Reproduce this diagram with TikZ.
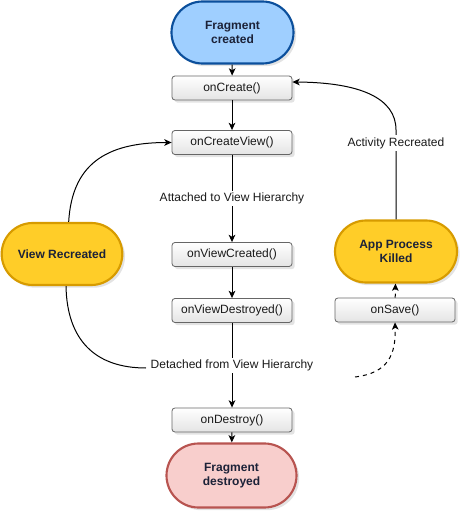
\documentclass[tikz,border=0pt]{standalone}
\usepackage{fontspec}
\setmainfont{Liberation Sans}
\usetikzlibrary{arrows.meta,shadows,shapes.misc}
\definecolor{boxline}{HTML}{666666}
\definecolor{boxbot}{HTML}{E4E4E4}
\definecolor{blueFill}{HTML}{9FCFFF}
\definecolor{blueLine}{HTML}{0B4F9C}
\definecolor{yelFill}{HTML}{FFCD28}
\definecolor{yelLine}{HTML}{D79B00}
\definecolor{pinkFill}{HTML}{F8CECC}
\definecolor{pinkLine}{HTML}{B85450}
\definecolor{txt}{HTML}{1A1A1A}
\definecolor{stxt}{HTML}{1C2238}
\tikzset{
  x=0.75pt, y=-0.75pt,
  every node/.style={font=\fontsize{9}{10.8}\selectfont, text=txt},
  sh/.style={drop shadow={opacity=0.22, shadow xshift=2pt, shadow yshift=-2pt}},
  callbox/.style={draw=boxline, line width=0.6pt, rounded corners=2.2pt,
    top color=white, bottom color=boxbot, minimum width=90pt, minimum height=18pt,
    inner sep=0pt, sh},
  stadium/.style={rounded rectangle, rounded rectangle arc length=180,
    line width=1.6pt, minimum height=46.5pt, text=stxt,
    align=center, font=\fontsize{9}{10.8}\selectfont\bfseries, inner sep=0pt, sh},
  lbl/.style={fill=white, inner sep=1.5pt},
  arr/.style={-{Stealth[length=5.5pt,width=5pt,inset=1.5pt]}, line width=0.75pt, black},
  ln/.style={line width=0.75pt, black},
}
\begin{document}
\begin{tikzpicture}
\useasboundingbox (0,0) rectangle (460,516);
% nodes
\node[stadium, fill=blueFill, draw=blueLine, minimum width=91.5pt] (fc) at (232.5,32.5) {Fragment\\created};
\node[callbox] (oc) at (232,88) {onCreate()};
\node[callbox] (ocv) at (232,142.5) {onCreateView()};
\node[callbox] (ovc) at (232,254.5) {onViewCreated()};
\node[callbox] (ovd) at (232,310.5) {onViewDestroyed()};
\node[callbox] (od) at (232,420) {onDestroy()};
\node[stadium, fill=pinkFill, draw=pinkLine, minimum width=97.5pt, minimum height=48pt] (fd) at (231.5,475.5) {Fragment\\destroyed};
\node[stadium, fill=yelFill, draw=yelLine, minimum width=90.5pt] (vr) at (62,254) {View Recreated};
\node[stadium, fill=yelFill, draw=yelLine, minimum width=91.5pt] (apk) at (396,251.5) {App Process\\Killed};
\node[callbox] (os) at (395,310) {onSave()};
% straight edges
\draw[arr] (fc) -- (oc);
\draw[arr] (oc) -- (ocv);
\draw[arr] (ocv) -- node[lbl, pos=0.5] (att) {Attached to View Hierarchy} (ovc);
\draw[arr] (ovc) -- (ovd);
\draw[arr] (ovd) -- node[lbl, pos=0.5] (det) {Detached from View Hierarchy} (od);
\draw[arr] (od) -- (fd);
\draw[arr, dashed] (os) -- (apk);
% curved edges
\coordinate (artop) at (396,130);
\draw[arr] (apk.north) -- (artop) .. controls (396,98) and (360,82.5) .. ([yshift=4.5pt]oc.east);
\node[lbl] (actrec) at (396,143) {Activity Recreated};
\draw[arr] ([xshift=5pt]vr.north) .. controls (72,165) and (105,142.5) .. (ocv.west);
\coordinate (dl) at (146,368);
\coordinate (dr) at (355,377);
\draw[ln] ([xshift=3pt]vr.south) .. controls (67,340) and (95,368) .. (dl);
\draw[arr, dashed] (dr) .. controls (388,373) and (396,355) .. (os.south);
\end{tikzpicture}
\end{document}
